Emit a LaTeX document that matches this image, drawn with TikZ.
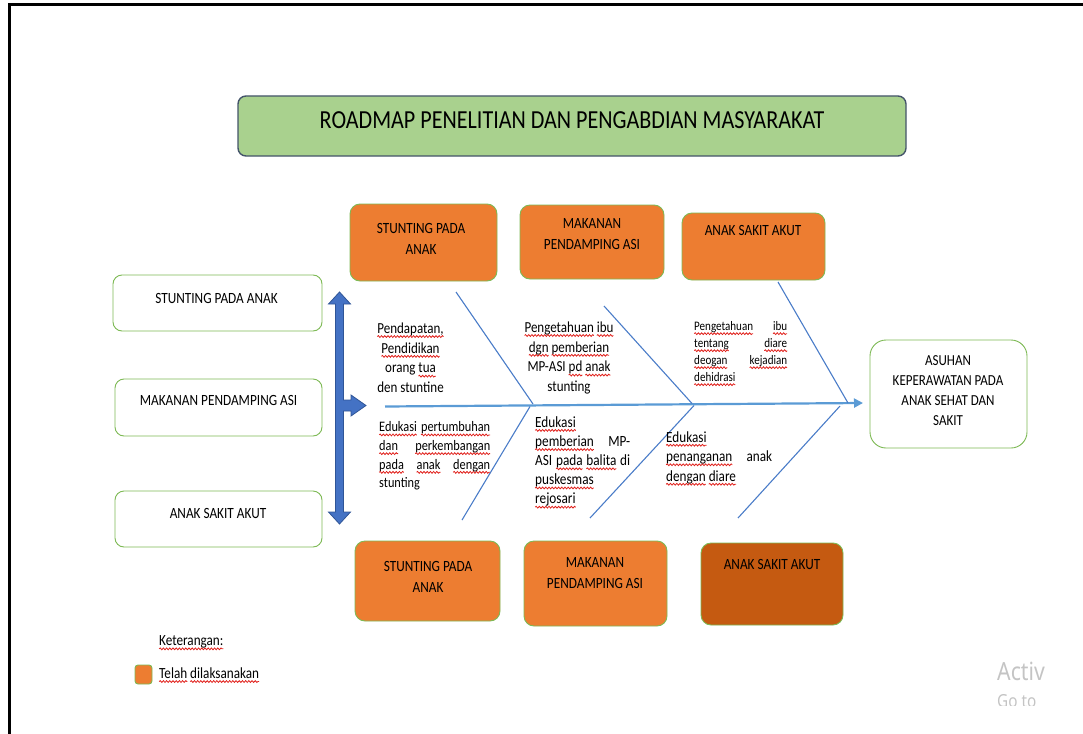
\documentclass[tikz,border=0pt]{standalone}
\usepackage{fontspec}
\setmainfont{Carlito}[FakeStretch=0.85]
\newfontfamily\wmfont{Noto Sans}[FakeStretch=0.85]
\usetikzlibrary{arrows.meta,decorations.pathmorphing}
\definecolor{squig}{HTML}{E0201B}
\newcommand\sq[1]{\tikz[baseline=(sqw.base)]{\node[inner sep=0pt,outer sep=0pt] (sqw) {#1};\draw[overlay, draw=squig, line width=0.8pt, decorate, decoration={snake, amplitude=0.9pt, segment length=3.2pt}] ([yshift=-3.2pt]sqw.base west) -- ([yshift=-3.2pt]sqw.base east);}}
\newcommand\jl[2]{\makebox[#1][s]{#2}}
\definecolor{orangeF}{HTML}{ED7D31}
\definecolor{orangeD}{HTML}{C55A11}
\definecolor{greenB}{HTML}{7DB954}
\definecolor{titleF}{HTML}{A9D18E}
\definecolor{titleB}{HTML}{44546A}
\definecolor{boneC}{HTML}{4A7CC8}
\definecolor{spineC}{HTML}{5B9BD5}
\definecolor{arrF}{HTML}{4472C4}
\definecolor{arrB}{HTML}{2F5597}
\definecolor{wmC}{HTML}{C4C4C4}
\tikzset{
  obox/.style={draw=greenB, line width=0.9pt, fill=orangeF, rounded corners=10pt, inner sep=0pt},
  dbox/.style={obox, fill=orangeD},
  wbox/.style={draw=greenB, line width=0.9pt, fill=white, rounded corners=9pt, inner sep=0pt},
  lbl/.style={inner sep=0pt, align=center, font=\fontsize{15.6}{21}\selectfont},
  note/.style={inner sep=0pt, align=left, anchor=west},
  bone/.style={draw=boneC, line width=1.1pt},
}
\begin{document}
\begin{tikzpicture}[x=1pt,y=-1pt]
\useasboundingbox (0,0) rectangle (1083,733);
% frame
\draw[line width=3pt] (9,735) -- (9,5) -- (1085,5);
% title
\node[draw=titleB, line width=1.4pt, fill=titleF, rounded corners=8pt, minimum width=668, minimum height=60, inner sep=0pt] (title) at (572,126) {};
\node[inner sep=0pt, font=\fontsize{26}{30}\selectfont] (titleT) at (572,120) {ROADMAP PENELITIAN DAN PENGABDIAN MASYARAKAT};
% top boxes
\node[obox, minimum width=147, minimum height=77] (t1) at (423.5,242.5) {};
\node[obox, minimum width=144, minimum height=74] (t2) at (592,242) {};
\node[obox, minimum width=143, minimum height=67] (t3) at (753.5,246.5) {};
\node[lbl] (t1T) at (421,238.5) {STUNTING PADA\\ANAK};
\node[lbl] (t2T) at (592,234.5) {MAKANAN\\PENDAMPING ASI};
\node[lbl] (t3T) at (753,230) {ANAK SAKIT AKUT};
% bottom boxes
\node[obox, minimum width=145, minimum height=80] (b1) at (427.5,581) {};
\node[obox, minimum width=143, minimum height=85] (b2) at (595.5,583.5) {};
\node[dbox, minimum width=142, minimum height=82] (b3) at (772,584) {};
\node[lbl] (b1T) at (428,577) {STUNTING PADA\\ANAK};
\node[lbl] (b2T) at (595,573.5) {MAKANAN\\PENDAMPING ASI};
\node[lbl] (b3T) at (772,564) {ANAK SAKIT AKUT};
% left boxes
\node[wbox, minimum width=209, minimum height=56] (l1) at (217.5,303) {};
\node[wbox, minimum width=207, minimum height=57] (l2) at (218.5,407.5) {};
\node[wbox, minimum width=207, minimum height=56] (l3) at (218.5,519) {};
\node[lbl] (l1T) at (216.5,298.3) {STUNTING PADA ANAK};
\node[lbl] (l2T) at (218.5,400) {MAKANAN PENDAMPING ASI};
\node[lbl] (l3T) at (218,513.3) {ANAK SAKIT AKUT};
% goal box
\node[wbox, rounded corners=16pt, minimum width=157, minimum height=108] (goal) at (948.5,394) {};
\node[lbl, font=\fontsize{15.3}{20}\selectfont] (goalT) at (948,391) {ASUHAN\\KEPERAWATAN PADA\\ANAK SEHAT DAN\\SAKIT};
% blue block double arrow with branch
\draw[fill=arrF, draw=arrB, line width=0.8pt, line join=miter]
  (339.5,292) -- (350.5,304) -- (343.5,304) -- (343.5,400) -- (351,400) -- (351,395)
  -- (366,405.5) -- (351,416) -- (351,411) -- (343.5,411) -- (343.5,512) -- (350.5,512)
  -- (339.5,524) -- (328.5,512) -- (335.5,512) -- (335.5,304) -- (328.5,304) -- cycle;
% spine
\coordinate (sS) at (385,406.5);
\coordinate (sE) at (863,403);
\draw[draw=spineC, line width=2.2pt, -{Triangle[length=9pt,width=9pt]}] (sS) -- (sE);
% bones
\coordinate (u1a) at (456,292); \coordinate (u1b) at (533,404);
\coordinate (u2a) at (604,306); \coordinate (u2b) at (692,403.5);
\coordinate (u3a) at (778,282); \coordinate (u3b) at (848,403);
\coordinate (d1a) at (462,520); \coordinate (d1b) at (530,406.5);
\coordinate (d2a) at (590,518); \coordinate (d2b) at (694,405.5);
\coordinate (d3a) at (738,518); \coordinate (d3b) at (840,406);
\draw[bone] (u1a) -- (u1b);
\draw[bone] (u2a) -- (u2b);
\draw[bone] (u3a) -- (u3b);
\draw[bone] (d1a) -- (d1b);
\draw[bone] (d2a) -- (d2b);
\draw[bone] (d3a) -- (d3b);
% cause texts
\node[lbl, font=\fontsize{15.3}{19.8}\selectfont] (c1) at (410.5,357.8) {\sq{Pendapatan,}\\\sq{Pendidikan}\\orang \sq{tua}\\den stuntine};
\node[lbl, font=\fontsize{15.3}{19.8}\selectfont] (c2) at (569,358) {\sq{Pengetahuan} \sq{ibu}\\\sq{dgn} \sq{pemberian}\\MP-ASI \sq{pd} \sq{anak}\\stunting};
\node[note, font=\fontsize{13}{17}\selectfont] (c3) at (694,351.5) {\jl{93pt}{\sq{Pengetahuan} \sq{ibu}}\\\jl{93pt}{\sq{tentang} \sq{diare}}\\\jl{93pt}{\sq{deogan} \sq{kejadian}}\\\sq{dehidrasi}};
\node[note, font=\fontsize{14.5}{18.7}\selectfont] (e1) at (379,456) {\jl{111pt}{\sq{Edukasi} \sq{pertumbuhan}}\\\jl{111pt}{\sq{dan} \sq{perkembangan}}\\\jl{111pt}{\sq{pada} \sq{anak} \sq{dengan}}\\stunting};
\node[note, font=\fontsize{15.6}{19.2}\selectfont] (e2) at (535,461.5) {\sq{Edukasi}\\\jl{95pt}{\sq{pemberian} MP-}\\\jl{95pt}{ASI \sq{pada} \sq{balita} di}\\\sq{puskesmas}\\\sq{rejosari}};
\node[note, font=\fontsize{15.5}{19.5}\selectfont] (e3) at (666,457.5) {\sq{Edukasi}\\\jl{106pt}{\sq{penanganan} anak}\\\sq{dengan} \sq{diare}};
% legend
\node[note, font=\fontsize{15.5}{19}\selectfont] (ket) at (159,642) {\sq{Keterangan:}};
\node[obox, rounded corners=3pt, minimum width=17, minimum height=19] (lgBox) at (143.5,674.5) {};
\node[note, font=\fontsize{15.5}{19}\selectfont] (lgT) at (159,673) {\sq{Telah} \sq{dilaksanakan}};
% watermark (cut off as in the screenshot)
\begin{scope}
\clip (0,0) rectangle (1083,705);
\node[inner sep=0pt, anchor=west, text=wmC, font=\wmfont\fontsize{25}{30}\selectfont] (wm1) at (997,671) {Activ};
\node[inner sep=0pt, anchor=west, text=wmC, font=\wmfont\fontsize{18}{22}\selectfont] (wm2) at (997,701) {Go to};
\end{scope}
\end{tikzpicture}
\end{document}
